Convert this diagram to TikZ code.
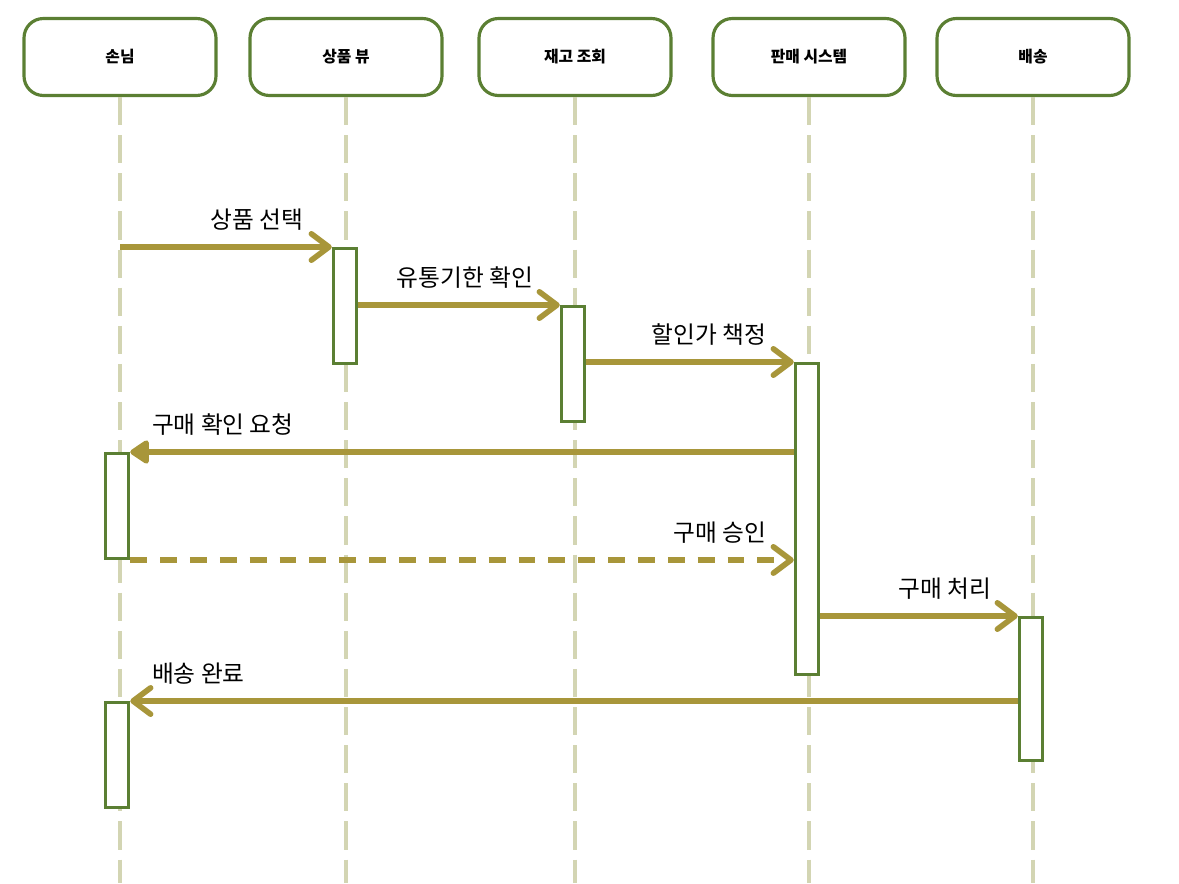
\documentclass[tikz,border=0pt]{standalone}
\usepackage{fontspec}
\setmainfont{Noto Sans CJK KR}
\usepackage{tikz}
\usetikzlibrary{arrows.meta,positioning,calc}
\definecolor{frame}{HTML}{5B7F33}
\definecolor{msgline}{HTML}{A8963A}
\definecolor{lifeline}{HTML}{D3D5B3}

\begin{document}
\begin{tikzpicture}[
  x=0.02cm, y=-0.02cm,
  >={Straight Barb[length=10pt,width=15pt,line cap=round,line join=round]},
  actor/.style={draw=frame, line width=1.8pt, rounded corners=11pt, align=center,
    minimum width=3.84cm, minimum height=1.54cm, font=\bfseries\fontsize{9}{11}\selectfont},
  life/.style={draw=lifeline, line width=2pt, dash pattern=on 16pt off 5.7pt},
  act/.style={draw=frame, fill=white, line width=1.7pt, minimum width=0.47cm, inner sep=0pt, anchor=north},
  msg/.style={->, draw=msgline, line width=3.2pt},
  reply/.style={msg, dash pattern=on 9.6pt off 7.4pt},
  request/.style={msg, -{Triangle[length=12pt,width=15pt,round]}},
  lbl/.style={font=\fontsize{13.5}{15}\selectfont, inner sep=0pt}
]
  \useasboundingbox (0,0) rectangle (1179,883);

  % participants
  \node[actor] (cust) at (120,57) {손님};
  \node[actor] (view) at (346,57) {상품 뷰};
  \node[actor] (stock) at (575,57) {재고 조회};
  \node[actor] (sales) at (809,57) {판매 시스템};
  \node[actor] (ship) at (1033,57) {배송};

  % lifelines
  \foreach \p in {cust,view,stock,sales,ship}
    \draw[life] (\p.south) -- (\p.south |- 0,883);

  % activations
  \node[act, minimum height=2.3cm] (viewAct) at (345,247) {};
  \node[act, minimum height=2.3cm] (stockAct) at (573,305) {};
  \node[act, minimum height=6.22cm] (salesAct) at (807,362) {};
  \node[act, minimum height=2.1cm] (custAct) at (117,452) {};
  \node[act, minimum height=2.86cm] (shipAct) at (1031,616) {};
  \node[act, minimum height=2.1cm] (custAct2) at (117,701) {};

  % messages
  \draw[msg] (cust.south |- viewAct.north) -- (viewAct.north west)
    node[lbl, anchor=south east, pos=1, xshift=-26*0.02cm, yshift=0.28cm] {상품 선택};
  \draw[msg] (viewAct.east |- stockAct.north) -- (stockAct.north west)
    node[lbl, anchor=south east, pos=1, xshift=-24*0.02cm, yshift=0.28cm] {유통기한 확인};
  \draw[msg] (stockAct.east |- salesAct.north) -- (salesAct.north west)
    node[lbl, anchor=south east, pos=1, xshift=-25*0.02cm, yshift=0.28cm] {할인가 책정};
  \draw[request] (salesAct.west |- custAct.north) -- (custAct.north east)
    node[lbl, anchor=south west, pos=1, xshift=19*0.02cm, yshift=0.28cm] {구매 확인 요청};
  \draw[reply] (custAct.south east) -- (salesAct.west |- custAct.south)
    node[lbl, anchor=south east, pos=1, xshift=-25*0.02cm, yshift=0.28cm] {구매 승인};
  \draw[msg] (salesAct.east |- shipAct.north) -- (shipAct.north west)
    node[lbl, anchor=south east, pos=1, xshift=-24*0.02cm, yshift=0.28cm] {구매 처리};
  \draw[msg] (shipAct.west |- custAct2.north) -- (custAct2.north east)
    node[lbl, anchor=south west, pos=1, xshift=19*0.02cm, yshift=0.28cm] {배송 완료};
\end{tikzpicture}
\end{document}
